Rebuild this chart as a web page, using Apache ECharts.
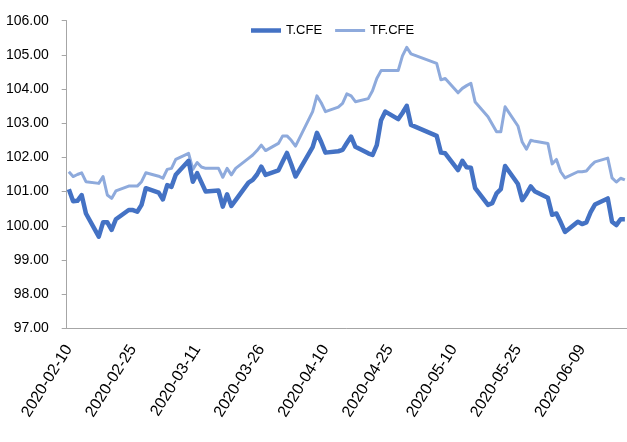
<!DOCTYPE html>
<html>
<head>
<meta charset="utf-8">
<script src="https://cdn.jsdelivr.net/npm/echarts@6/dist/echarts.min.js"></script>
<style>
html, body { margin: 0; padding: 0; background: #fff; }
#chart { width: 627px; height: 442px; }
</style>
</head>
<body>
<div id="chart"></div>
<script>
// trading days
var tradeDates = [
	'2020-02-10', '2020-02-11', '2020-02-12', '2020-02-13', '2020-02-14',
	'2020-02-17', '2020-02-18', '2020-02-19', '2020-02-20', '2020-02-21',
	'2020-02-24', '2020-02-25', '2020-02-26', '2020-02-27', '2020-02-28',
	'2020-03-02', '2020-03-03', '2020-03-04', '2020-03-05', '2020-03-06',
	'2020-03-09', '2020-03-10', '2020-03-11', '2020-03-12', '2020-03-13',
	'2020-03-16', '2020-03-17', '2020-03-18', '2020-03-19', '2020-03-20',
	'2020-03-23', '2020-03-24', '2020-03-25', '2020-03-26', '2020-03-27',
	'2020-03-30', '2020-03-31', '2020-04-01', '2020-04-02', '2020-04-03',
	'2020-04-07', '2020-04-08', '2020-04-09', '2020-04-10',
	'2020-04-13', '2020-04-14', '2020-04-15', '2020-04-16', '2020-04-17',
	'2020-04-20', '2020-04-21', '2020-04-22', '2020-04-23', '2020-04-24',
	'2020-04-27', '2020-04-28', '2020-04-29', '2020-04-30',
	'2020-05-06', '2020-05-07', '2020-05-08',
	'2020-05-11', '2020-05-12', '2020-05-13', '2020-05-14', '2020-05-15',
	'2020-05-18', '2020-05-19', '2020-05-20', '2020-05-21', '2020-05-22',
	'2020-05-25', '2020-05-26', '2020-05-27', '2020-05-28', '2020-05-29',
	'2020-06-01', '2020-06-02', '2020-06-03', '2020-06-04', '2020-06-05',
	'2020-06-08', '2020-06-09', '2020-06-10', '2020-06-11', '2020-06-12',
	'2020-06-15', '2020-06-16', '2020-06-17', '2020-06-18', '2020-06-19'
];

var tValues = [
	101.07, 100.72, 100.73, 100.90, 100.36,
	99.68, 100.10, 100.10, 99.88, 100.19,
	100.46, 100.46, 100.41, 100.61, 101.10,
	100.97, 100.77, 101.19, 101.14, 101.49,
	101.90, 101.29, 101.54, 101.27, 101.00,
	101.03, 100.56, 100.92, 100.58, 100.75,
	101.26, 101.34, 101.50, 101.73, 101.49,
	101.62, 101.88, 102.13, 101.80, 101.44,
	102.30, 102.72, 102.45, 102.14,
	102.18, 102.22, 102.42, 102.61, 102.31,
	102.12, 102.07, 102.36, 103.09, 103.34,
	103.12, 103.30, 103.51, 102.95,
	102.63, 102.14, 102.12,
	101.63, 101.90, 101.71, 101.70, 101.10,
	100.61, 100.66, 100.95, 101.07, 101.75,
	101.22, 100.75, 100.93, 101.15, 101.00,
	100.82, 100.32, 100.36, 100.10, 99.82,
	100.12, 100.05, 100.10, 100.40, 100.62,
	100.80, 100.12, 100.02, 100.19, 100.19
];

var tfValues = [
	101.58, 101.44, 101.50, 101.55, 101.29,
	101.24, 101.44, 100.90, 100.80, 101.02,
	101.16, 101.16, 101.16, 101.29, 101.55,
	101.45, 101.39, 101.65, 101.68, 101.94,
	102.12, 101.65, 101.85, 101.72, 101.68,
	101.68, 101.42, 101.68, 101.49, 101.68,
	101.97, 102.07, 102.20, 102.36, 102.20,
	102.41, 102.63, 102.63, 102.50, 102.33,
	103.34, 103.80, 103.60, 103.34,
	103.47, 103.58, 103.86, 103.80, 103.63,
	103.72, 103.95, 104.31, 104.54, 104.54,
	104.54, 104.97, 105.22, 105.03,
	104.75, 104.27, 104.31,
	103.89, 104.02, 104.10, 104.17, 103.62,
	103.19, 102.97, 102.75, 102.75, 103.48,
	102.92, 102.45, 102.24, 102.50, 102.47,
	102.41, 101.81, 101.94, 101.58, 101.40,
	101.58, 101.58, 101.60, 101.75, 101.87,
	101.98, 101.40, 101.28, 101.39, 101.34
];

var seriesNames = ['T.CFE', 'TF.CFE'];
var yTicks = [97, 98, 99, 100, 101, 102, 103, 104, 105, 106];

// date axis like excel: every calendar day gets a slot
function pad(n) { return n < 10 ? '0' + n : '' + n; }
var days = [];
var cur = new Date(tradeDates[0] + 'T00:00:00Z');
var last = new Date(tradeDates[tradeDates.length - 1] + 'T00:00:00Z');
while (cur <= last) {
	days.push(cur.getUTCFullYear() + '-' + pad(cur.getUTCMonth() + 1) + '-' + pad(cur.getUTCDate()));
	cur = new Date(cur.getTime() + 86400000);
}
function toDaily(vals) {
	var map = {};
	for (var i = 0; i < tradeDates.length; i++) map[tradeDates[i]] = vals[i];
	return days.map(function(d) { return map.hasOwnProperty(d) ? map[d] : null; });
}

var font = "'Liberation Sans', Arial, sans-serif";
var axisGray = '#a6a6a6';

var option = {
	animation: false,
	backgroundColor: '#ffffff',
	legend: {
		top: 19,
		left: 246,
		itemWidth: 30,
		itemHeight: 14,
		itemGap: 13,
		textStyle: { fontFamily: font, fontSize: 13, color: '#000' },
		data: [
			{ name: seriesNames[0], icon: 'path://M0,0 L30,0 L30,4.5 L0,4.5 Z' },
			{ name: seriesNames[1], icon: 'path://M0,0 L30,0 L30,3 L0,3 Z' }
		]
	},
	grid: { left: 66.7, right: 0, top: 20.7, bottom: 113.7 },
	xAxis: {
		type: 'category',
		boundaryGap: true,
		data: days,
		axisLine: { lineStyle: { color: axisGray, width: 1 } },
		axisTick: { interval: 14, length: 6, lineStyle: { color: axisGray } },
		axisLabel: {
			interval: 14,
			rotate: 58,
			margin: 18,
			fontFamily: font,
			fontSize: 16,
			color: '#000'
		},
		splitLine: { show: false }
	},
	yAxis: {
		type: 'value',
		min: yTicks[0],
		max: yTicks[yTicks.length - 1],
		interval: 1,
		axisLine: { show: true, lineStyle: { color: axisGray, width: 1 } },
		axisTick: { show: true, length: 5, lineStyle: { color: axisGray } },
		axisLabel: {
			margin: 18,
			fontFamily: font,
			fontSize: 14,
			color: '#000',
			formatter: function(v) { return v.toFixed(2); }
		},
		splitLine: { show: false }
	},
	series: [{
		name: seriesNames[0],
		type: 'line',
		data: toDaily(tValues),
		connectNulls: true,
		symbol: 'none',
		color: '#4472c4',
		lineStyle: { color: '#4472c4', width: 4.5, join: 'round' },
		z: 3
	}, {
		name: seriesNames[1],
		type: 'line',
		data: toDaily(tfValues),
		connectNulls: true,
		symbol: 'none',
		color: '#8eaadc',
		lineStyle: { color: '#8eaadc', width: 3, join: 'round' },
		z: 2
	}]
};

var chart = echarts.init(document.getElementById('chart'));
chart.setOption(option);
</script>
</body>
</html>
